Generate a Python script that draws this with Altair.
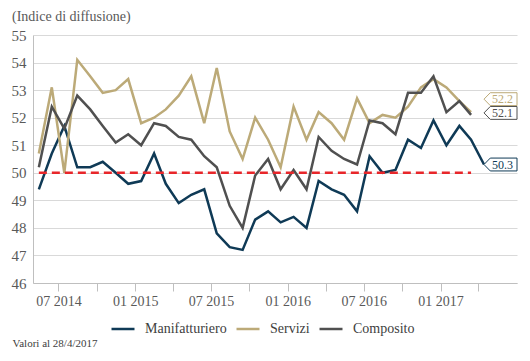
import altair as alt
import pandas as pd

# ---------------- data ----------------
mesi = [
    "2014-05", "2014-06", "2014-07", "2014-08", "2014-09", "2014-10", "2014-11", "2014-12",
    "2015-01", "2015-02", "2015-03", "2015-04", "2015-05", "2015-06", "2015-07", "2015-08",
    "2015-09", "2015-10", "2015-11", "2015-12",
    "2016-01", "2016-02", "2016-03", "2016-04", "2016-05", "2016-06", "2016-07", "2016-08",
    "2016-09", "2016-10", "2016-11", "2016-12",
    "2017-01", "2017-02", "2017-03", "2017-04",
]
manifatturiero = [49.4, 50.7, 51.7, 50.2, 50.2, 50.4, 50.0, 49.6,
                  49.7, 50.7, 49.6, 48.9, 49.2, 49.4, 47.8, 47.3, 47.2, 48.3, 48.6, 48.2,
                  48.4, 48.0, 49.7, 49.4, 49.2, 48.6, 50.6, 50.0, 50.1, 51.2, 50.9, 51.9,
                  51.0, 51.7, 51.2, 50.3]
servizi = [50.7, 53.1, 50.0, 54.1, 53.5, 52.9, 53.0, 53.4,
           51.8, 52.0, 52.3, 52.8, 53.5, 51.8, 53.8, 51.5, 50.5, 52.0, 51.2, 50.2,
           52.4, 51.2, 52.2, 51.8, 51.2, 52.7, 51.8, 52.1, 52.0, 52.4, 53.1, 53.4,
           53.1, 52.6, 52.2]
composito = [50.2, 52.4, 51.6, 52.8, 52.3, 51.7, 51.1, 51.4,
             51.0, 51.8, 51.7, 51.3, 51.2, 50.6, 50.2, 48.8, 48.0, 49.9, 50.5, 49.4,
             50.1, 49.4, 51.3, 50.8, 50.5, 50.3, 51.9, 51.8, 51.4, 52.9, 52.9, 53.5,
             52.2, 52.6, 52.1]

serie_nomi = ["Manifatturiero", "Servizi", "Composito"]
serie_valori = [manifatturiero, servizi, composito]
colori = ["#0f3a56", "#bcaa78", "#505050"]

soglia = [50]
soglia_da = ["2014-05"]
soglia_a = ["2017-03"]

tick_mesi = ["2014-07", "2014-10", "2015-01", "2015-04", "2015-07", "2015-10",
             "2016-01", "2016-04", "2016-07", "2016-10", "2017-01", "2017-04"]
y_ticks = [46, 47, 48, 49, 50, 51, 52, 53, 54, 55]

titolo = "(Indice di diffusione)"
nota = "Valori al 28/4/2017"

FONT = "Liberation Serif"

# ---------------- tables ----------------
rows = []
for nome, vals in zip(serie_nomi, serie_valori):
    for m, v in zip(mesi, vals):
        rows.append({"serie": nome, "data": m + "-15", "valore": v})
df = pd.DataFrame(rows)

df_soglia = pd.DataFrame({
    "data": [d + "-15" for d in soglia_da],
    "fine": [d + "-15" for d in soglia_a],
    "valore": soglia,
})

df_lab = pd.DataFrame({
    "serie": serie_nomi,
    "data": [mesi[-1] + "-15"] * 3,
    "valore": [v[-1] for v in serie_valori],
})


def dt(s, day=1):
    y, m = s.split("-")
    return alt.DateTime(year=int(y), month=int(m), date=day, utc=True)


x_scale = alt.Scale(type="utc", domain=[dt("2014-05", 1), dt("2017-07", 3)])
y_scale = alt.Scale(domain=[46, 55], nice=False, zero=False)

x_axis = alt.Axis(
    values=[dt(t) for t in tick_mesi],
    labelExpr="(utcmonth(datum.value) % 6 == 0) ? utcFormat(datum.value, '%m %Y') : ''",
    grid=False, domainColor="#bfbfbf", tickColor="#bfbfbf", tickSize=8,
    labelPadding=3, labelFontSize=14, labelColor="#595959", labelFont=FONT,
    labelFlush=False, labelOverlap=False,
    title=nota, titleX=-21, titleY=63, titleAlign="left", titleBaseline="alphabetic",
    titleFontSize=11, titleFontWeight="normal", titleColor="#404040", titleFont=FONT,
    titleAngle=0,
)
y_axis = alt.Axis(
    values=y_ticks, tickCount=10, grid=True, gridColor="#d9d9d9", domain=True,
    domainColor="#bfbfbf", ticks=False, labelPadding=7, labelFontSize=15,
    labelColor="#595959", labelFont=FONT, labelOverlap=False, labelFlush=False,
    title="",
)

X = alt.X("data:T", scale=x_scale, axis=x_axis)
Y = alt.Y("valore:Q", scale=y_scale, axis=y_axis)

lines = alt.Chart(df).mark_line(strokeWidth=2.5).encode(
    x=X, y=Y,
    color=alt.Color(
        "serie:N",
        scale=alt.Scale(domain=serie_nomi, range=colori),
        sort=serie_nomi,
        legend=alt.Legend(
            orient="none", legendX=77, legendY=281, direction="horizontal", title=None,
            symbolType="stroke", symbolSize=529, symbolStrokeWidth=2.5,
            labelFont=FONT, labelFontSize=14, labelColor="#404040", labelOffset=9,
            columnPadding=4, padding=0,
        ),
    ),
)

rule = alt.Chart(df_soglia).mark_rule(
    color="#e8262a", strokeWidth=2.5, strokeDash=[8, 5]
).encode(
    x=X, x2="fine:T", y=Y,
)

BOX = "M -1 0 L -0.62 -0.39 L 1 -0.39 L 1 0.39 L -0.62 0.39 Z"
y_shift = {"Manifatturiero": 0, "Servizi": -13, "Composito": -2}

callouts = []
for nome, col in zip(serie_nomi, colori):
    base = alt.Chart(df_lab).transform_filter(alt.datum.serie == nome)
    callouts.append(
        base.mark_point(shape=BOX, size=1089, filled=True, fill="white", stroke=col,
                        strokeWidth=1, opacity=1, xOffset=16.5,
                        yOffset=y_shift[nome]).encode(x=X, y=Y)
    )
    callouts.append(
        base.mark_text(color=col, font=FONT, fontSize=12, align="center",
                       baseline="middle", xOffset=18.5,
                       yOffset=y_shift[nome]).encode(
            x=X, y=Y, text=alt.Text("valore:Q", format=".1f"))
    )

chart = alt.layer(lines, rule, *callouts).properties(
    width=484, height=248,
    padding={"left": 25, "top": 27, "right": 5, "bottom": 70},
    autosize=alt.AutoSizeParams(type="none"),
    title=alt.TitleParams(
        text=titolo, anchor="start", frame="group", dx=-21, dy=22, offset=15,
        baseline="alphabetic", fontSize=14, fontWeight="normal", color="#595959",
        font=FONT,
    ),
).configure(font=FONT).configure_view(stroke=None)

chart.save("out.html", embed_options={"renderer": "svg", "actions": False})
